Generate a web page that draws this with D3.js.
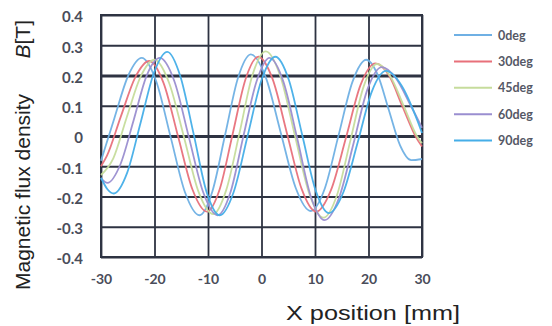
<!DOCTYPE html>
<html>
<head>
<meta charset="utf-8">
<script src="https://cdn.jsdelivr.net/npm/d3@7"></script>
<style>
  html, body { margin: 0; padding: 0; background: #fff; }
  svg { display: block; }
</style>
</head>
<body>
<svg id="chart" width="552" height="326"></svg>
<script>
// Axis ticks
const xTicks = [-30, -20, -10, 0, 10, 20, 30];
const xTickLabels = ["-30", "-20", "-10", "0", "10", "20", "30"];
const yTicks = [0.4, 0.3, 0.2, 0.1, 0, -0.1, -0.2, -0.3, -0.4];
const yTickLabels = ["0.4", "0.3", "0.2", "0.1", "0", "-0.1", "-0.2", "-0.3", "-0.4"];

// Series: [x position (mm), B (T)]
const seriesNames = ["0deg", "30deg", "45deg", "60deg", "90deg"];
const deg0 = [[-30,-0.082],[-27.5,0.059],[-24.9,0.200],[-22.4,0.258],[-19.7,0.182],[-17.0,-0.002],[-14.3,-0.186],[-11.6,-0.262],[-9.2,-0.184],[-6.8,0.004],[-4.4,0.192],[-2.0,0.270],[0.8,0.194],[3.6,0.011],[6.4,-0.172],[9.2,-0.248],[11.8,-0.175],[14.4,0.002],[17.0,0.179],[19.6,0.252],[21.7,0.203],[23.8,0.086],[25.9,-0.031],[28.0,-0.080],[30,-0.076]];
const deg30 = [[-30,-0.100],[-28.9,-0.066],[-26.3,0.064],[-23.6,0.194],[-21.0,0.248],[-18.3,0.175],[-15.6,-0.001],[-12.9,-0.177],[-10.2,-0.250],[-7.8,-0.175],[-5.4,0.006],[-3.0,0.187],[-0.6,0.262],[2.1,0.187],[4.8,0.006],[7.5,-0.175],[10.2,-0.250],[13.0,-0.178],[15.8,-0.005],[18.5,0.168],[21.3,0.240],[23.9,0.198],[26.4,0.095],[29.0,-0.008],[30,-0.035]];
const deg45 = [[-30,-0.129],[-27.7,-0.074],[-25.2,0.061],[-22.6,0.196],[-20.0,0.252],[-17.3,0.177],[-14.5,-0.003],[-11.8,-0.183],[-9.0,-0.258],[-6.6,-0.179],[-4.1,0.011],[-1.7,0.201],[0.8,0.280],[3.5,0.199],[6.2,0.005],[8.9,-0.189],[11.6,-0.270],[14.1,-0.196],[16.6,-0.016],[19.1,0.164],[21.6,0.238],[24.1,0.197],[26.6,0.099],[29.0,0.001],[30,-0.024]];
const deg60 = [[-30,-0.140],[-28.8,-0.155],[-26.4,-0.095],[-23.9,0.052],[-21.5,0.198],[-19.0,0.258],[-16.3,0.182],[-13.6,-0.002],[-10.9,-0.186],[-8.2,-0.262],[-5.8,-0.186],[-3.4,-0.002],[-0.9,0.182],[1.5,0.258],[4.1,0.179],[6.7,-0.010],[9.2,-0.199],[11.8,-0.278],[14.5,-0.204],[17.2,-0.025],[19.8,0.154],[22.5,0.228],[25.1,0.192],[27.8,0.104],[30,0.027]];
const deg90 = [[-30,-0.138],[-28.8,-0.176],[-27.6,-0.190],[-25.1,-0.121],[-22.6,0.044],[-20.1,0.209],[-17.6,0.278],[-15.2,0.199],[-12.7,0.008],[-10.3,-0.183],[-7.8,-0.262],[-5.2,-0.185],[-2.6,0.000],[0.0,0.185],[2.6,0.262],[5.1,0.186],[7.6,0.004],[10.1,-0.179],[12.6,-0.255],[15.3,-0.186],[18.0,-0.020],[20.6,0.146],[23.3,0.215],[26.2,0.166],[29.2,0.048],[30,0.010]];
const seriesColors = ["#6fb0e4", "#e8707a", "#c6dc9c", "#9a8ed0", "#45aee8"];

const series = seriesNames.map((name, i) => ({
  name,
  color: seriesColors[i],
  values: [deg0, deg30, deg45, deg60, deg90][i]
}));

const svg = d3.select("#chart");
const plot = { left: 101, top: 15, right: 422, bottom: 257 };

const x = d3.scaleLinear().domain([-30, 30]).range([plot.left, plot.right]);
const y = d3.scaleLinear().domain([-0.4, 0.4]).range([plot.bottom, plot.top]);

const gridColor = "#2e3342";
const tickFont = "Lato, 'Open Sans', sans-serif";
const titleFont = "'Liberation Sans', Arial, sans-serif";

// Vertical grid + x tick labels
const xAxis = svg.append("g")
  .attr("transform", `translate(0,${plot.bottom})`)
  .call(d3.axisBottom(x)
    .tickValues(xTicks)
    .tickFormat((d, i) => xTickLabels[i])
    .tickSize(-(plot.bottom - plot.top))
    .tickPadding(22));
xAxis.select(".domain").remove();
xAxis.selectAll(".tick line")
  .attr("stroke", gridColor).attr("stroke-width", 1.8);
xAxis.selectAll(".tick text")
  .attr("fill", "#4a4d5a")
  .attr("dy", "0.35em")
  .style("font-family", tickFont)
  .style("font-weight", "bold")
  .style("font-size", "14px");

// Horizontal grid + y tick labels
const yAxis = svg.append("g")
  .attr("transform", `translate(${plot.left},0)`)
  .call(d3.axisLeft(y)
    .tickValues(yTicks)
    .tickFormat((d, i) => yTickLabels[i])
    .tickSize(-(plot.right - plot.left))
    .tickPadding(18));
yAxis.select(".domain").remove();
yAxis.selectAll(".tick line")
  .attr("stroke", gridColor)
  .attr("stroke-width", d => (Math.abs(d - 0.2) < 1e-9 || Math.abs(d) < 1e-9) ? 2.8 : 1.8);
yAxis.selectAll(".tick text")
  .attr("fill", "#4a4d5a")
  .attr("dy", "0.45em")
  .style("font-family", tickFont)
  .style("font-weight", "bold")
  .style("font-size", "15px");

// Plot frame
svg.append("rect")
  .attr("x", plot.left).attr("y", plot.top)
  .attr("width", plot.right - plot.left)
  .attr("height", plot.bottom - plot.top)
  .attr("fill", "none")
  .attr("stroke", gridColor)
  .attr("stroke-width", 2);

// Curves
const line = d3.line()
  .x(d => x(d[0]))
  .y(d => y(d[1]))
  .curve(d3.curveMonotoneX);

svg.append("g")
  .selectAll("path")
  .data(series)
  .join("path")
  .attr("d", d => line(d.values))
  .attr("fill", "none")
  .attr("stroke", d => d.color)
  .attr("stroke-width", 1.8)
  .attr("stroke-opacity", 0.95);

// Legend
const legend = svg.append("g").attr("transform", "translate(454,35)");
const rows = legend.selectAll("g")
  .data(series)
  .join("g")
  .attr("transform", (d, i) => `translate(0,${i * 26.4})`);
rows.append("line")
  .attr("x1", 0).attr("x2", 38)
  .attr("stroke", d => d.color)
  .attr("stroke-width", 2);
rows.append("text")
  .attr("x", 44).attr("y", 4.5)
  .attr("fill", "#555866")
  .style("font-family", tickFont)
  .style("font-weight", "bold")
  .style("font-size", "12.5px")
  .text(d => d.name);

// Axis titles
svg.append("text")
  .attr("x", 286).attr("y", 320)
  .attr("fill", "#222")
  .attr("textLength", 174)
  .attr("lengthAdjust", "spacingAndGlyphs")
  .style("font-family", titleFont)
  .style("font-size", "21px")
  .text("X position [mm]");

svg.append("text")
  .attr("transform", "translate(30,290) rotate(-90)")
  .attr("fill", "#222")
  .style("font-family", titleFont)
  .style("font-size", "21px")
  .text("Magnetic flux density");

const unitTitle = svg.append("text")
  .attr("transform", "translate(30,20) rotate(-90)")
  .attr("text-anchor", "end")
  .attr("fill", "#222")
  .style("font-family", titleFont)
  .style("font-size", "21px");
unitTitle.append("tspan").style("font-style", "italic").text("B");
unitTitle.append("tspan").text("[T]");
</script>
</body>
</html>
